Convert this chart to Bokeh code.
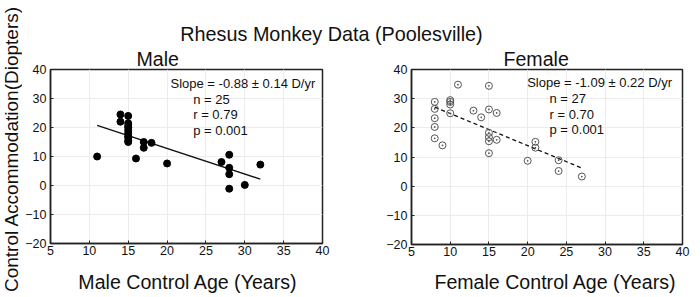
import math
from bokeh.plotting import figure
from bokeh.models import Range1d, FixedTicker, Label, GridBox
from bokeh.embed import file_html
from bokeh.resources import INLINE

# ---------------- data ----------------
x_ticks = [5, 10, 15, 20, 25, 30, 35, 40]
y_ticks = [-20, -10, 0, 10, 20, 30, 40]

male_age = [11, 14, 14, 15, 15, 15, 15, 15, 15, 15, 15, 15, 15,
            16, 17, 17, 18, 20, 27, 28, 28, 28, 28, 30, 32]
male_acc = [10.0, 24.5, 22.0, 24.0, 21.5, 20.5, 20.0, 19.0, 18.0, 17.0, 16.5, 15.5, 15.0,
            9.3, 15.0, 13.0, 14.7, 7.6, 8.1, 10.6, 6.1, 3.9, -1.1, 0.2, 7.2]
male_fit_x = [11, 32]
male_fit_y = [20.7, 2.2]
male_stats = ["Slope = -0.88 \u00b1 0.14 D/yr", "n = 25", "r = 0.79", "p = 0.001"]

female_age = [8, 8, 8, 8, 8, 9, 10, 10, 10, 10, 11, 13, 14,
              15, 15, 15, 15, 15, 15, 16, 16, 20, 21, 21, 24, 24, 27]
female_acc = [28.9, 26.5, 23.3, 20.3, 16.4, 14.0, 29.5, 28.9, 28.0, 25.0, 34.8, 25.9, 23.6,
              34.4, 26.3, 18.3, 16.8, 15.4, 11.3, 25.1, 15.9, 8.7, 15.2, 13.2, 8.9, 5.2, 3.3]
female_fit_x = [8, 27]
female_fit_y = [27.1, 6.2]
female_stats = ["Slope = -1.09 \u00b1 0.22 D/yr", "n = 27", "r = 0.70", "p = 0.001"]

main_title = "Rhesus Monkey Data (Poolesville)"
y_title = "Control Accommodation(Diopters)"
male_title = "Male"
female_title = "Female"
male_xtitle = "Male Control Age (Years)"
female_xtitle = "Female Control Age (Years)"

FONT = "Liberation Sans"
TITLE_SIZE = "19.6px"
INK = "#111111"

TOP_H = 45          # title strip: page y 0..45
BOT_Y = 266         # bottom strip: page y 266..297
LEFT_W = 22         # y-label strip: page x 0..22
PANEL_H = BOT_Y - TOP_H


def strip(width, height, x0, y0):
    f = figure(width=width, height=height, output_backend="svg", toolbar_location=None,
               x_range=Range1d(x0, x0 + width), y_range=Range1d(y0 + height, y0),
               min_border=0, x_axis_type=None, y_axis_type=None, frame_align=False)
    f.outline_line_color = None
    f.grid.visible = False
    f.background_fill_color = "white"
    f.border_fill_color = "white"
    return f


def make_panel(width, fig_left, fl, fr, ft, fb, title, title_left):
    p = figure(width=width, height=PANEL_H, output_backend="svg", toolbar_location=None,
               x_range=Range1d(5, 40), y_range=Range1d(-20, 40), frame_align=False,
               min_border_left=fl - fig_left, min_border_right=fig_left + width - fr,
               min_border_top=ft - TOP_H, min_border_bottom=BOT_Y - fb)
    p.background_fill_color = "white"
    p.border_fill_color = "white"
    p.outline_line_color = "#222222"
    p.outline_line_width = 1.5
    p.title.text = title
    p.title.align = "left"
    p.title.offset = title_left - fl
    p.title.standoff = 0
    p.title.text_font = FONT
    p.title.text_font_size = TITLE_SIZE
    p.title.text_font_style = "normal"
    p.title.text_color = INK
    for ax in (p.xaxis[0], p.yaxis[0]):
        ax.axis_line_color = "#222222"
        ax.axis_line_width = 1.5
        ax.major_tick_in = 3
        ax.major_tick_out = 0
        ax.minor_tick_in = 0
        ax.minor_tick_out = 0
        ax.major_tick_line_color = "#222222"
        ax.major_label_text_font = FONT
        ax.major_label_text_font_size = "12.5px"
        ax.major_label_text_color = INK
    p.xaxis.ticker = FixedTicker(ticks=x_ticks)
    p.yaxis.ticker = FixedTicker(ticks=y_ticks)
    p.xaxis.major_label_standoff = 2
    p.yaxis.major_label_standoff = 4
    p.xgrid.ticker = FixedTicker(ticks=x_ticks)
    p.ygrid.ticker = FixedTicker(ticks=y_ticks)
    for g in (p.xgrid[0], p.ygrid[0]):
        g.grid_line_color = "#ececec"
        g.grid_line_width = 1
    return p


def add_stats(p, fl, fr, ft, fb, stats, slope_left, n_left, centers):
    def fx(px):
        return 5 + (px - fl) * 35.0 / (fr - fl)

    def fy(py):
        return -20 + (fb - py) * 60.0 / (fb - ft)
    for i, s in enumerate(stats):
        left = slope_left if i == 0 else n_left
        p.add_layout(Label(x=fx(left), y=fy(centers[i]), text=s, text_align="left",
                           text_baseline="middle", text_font=FONT,
                           text_font_size="13px", text_color=INK))


# ---------- male panel ----------
male = make_panel(350 - LEFT_W, LEFT_W, 50, 322, 67, 243, male_title, 136)
add_stats(male, 50, 322, 67, 243, male_stats, 170, 192.7, [81, 97, 113, 128.7])
male.line(male_fit_x, male_fit_y, line_color=INK, line_width=1.3)
male.scatter(male_age, male_acc, marker="circle", size=7, fill_color="#000000",
             line_color="#000000")

# ---------- female panel ----------
female = make_panel(350, 350, 411, 682, 68, 244, female_title, 503)
add_stats(female, 411, 682, 68, 244, female_stats, 526.7, 549, [81, 97.6, 113, 128.7])
female.line(female_fit_x, female_fit_y, line_color=INK, line_width=1.3, line_dash="4 3")
female.scatter(female_age, female_acc, marker="circle_dot", size=7, fill_color=None,
               line_color="#555555", line_width=1)

# ---------- title strip ----------
top = strip(700 - LEFT_W, TOP_H, LEFT_W, 0)
top.add_layout(Label(x=331, y=33.5, text=main_title, text_align="center",
                     text_baseline="middle", text_font=FONT,
                     text_font_size="19.8px", text_color=INK))

# ---------- x-title strip ----------
bottom = strip(700 - LEFT_W, 297 - BOT_Y, LEFT_W, BOT_Y)
bottom.add_layout(Label(x=187.5, y=281.5, text=male_xtitle, text_align="center",
                        text_baseline="middle", text_font=FONT,
                        text_font_size=TITLE_SIZE, text_color=INK))
bottom.add_layout(Label(x=555, y=281.5, text=female_xtitle, text_align="center",
                        text_baseline="middle", text_font=FONT,
                        text_font_size=TITLE_SIZE, text_color=INK))

# ---------- y label strip ----------
side = strip(LEFT_W, 297, 0, 0)
side.add_layout(Label(x=10.5, y=148.5, text=y_title, angle=math.pi / 2, text_align="center",
                      text_baseline="middle", text_font=FONT,
                      text_font_size="19px", text_color=INK))

layout = GridBox(children=[(side, 0, 0, 3, 1), (top, 0, 1, 1, 2),
                           (male, 1, 1, 1, 1), (female, 1, 2, 1, 1),
                           (bottom, 2, 1, 1, 2)], spacing=0)

open("out.html", "w").write(file_html(layout, INLINE))
